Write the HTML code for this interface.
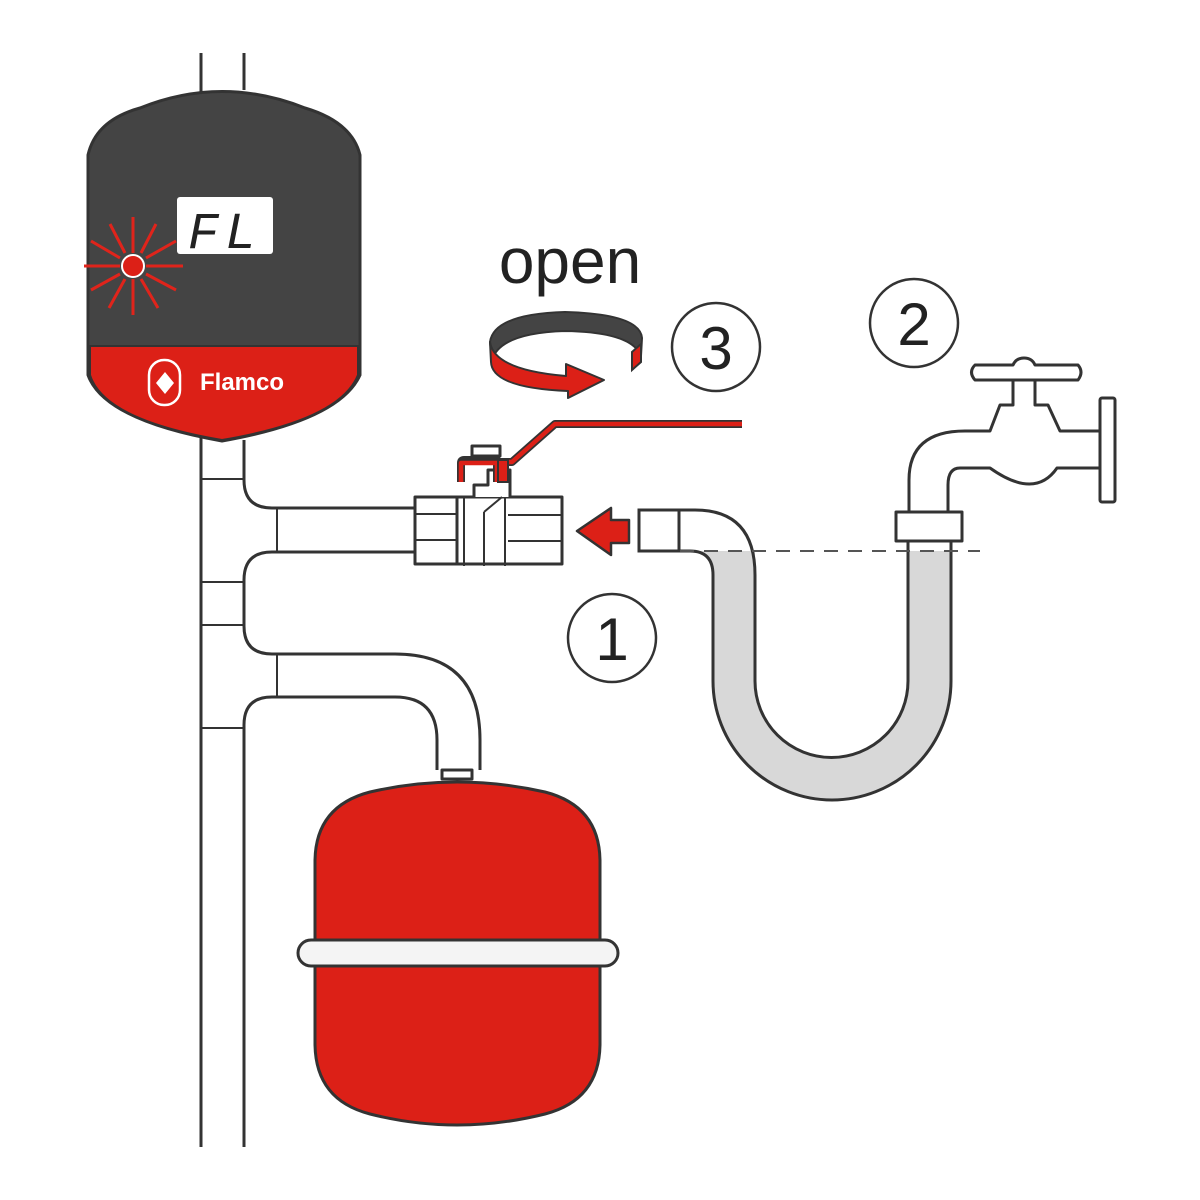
<!DOCTYPE html>
<html><head><meta charset="utf-8"><style>html,body{margin:0;padding:0;background:#fff}svg{display:block}</style></head>
<body>
<svg width="1200" height="1200" viewBox="0 0 1200 1200" xmlns="http://www.w3.org/2000/svg" font-family="Liberation Sans, sans-serif">
<g fill="none" stroke="#333" stroke-width="3" stroke-linejoin="round">
<line x1="201" y1="53" x2="201" y2="1147"/>
<line x1="244" y1="53" x2="244" y2="90"/>
<path d="M244 440 V480 Q244 508 272 508 H415"/>
<path d="M415 552 H272 Q244 552 244 580 V626 Q244 654 272 654 H395 Q480 654 480 740 V770"/>
<path d="M437 770 V740 Q437 697 395 697 H272 Q244 697 244 725 V1147"/>
<rect x="442" y="770" width="30" height="9" fill="#fff"/>
<g stroke-width="2">
<line x1="201" y1="479" x2="244" y2="479"/>
<line x1="201" y1="582" x2="244" y2="582"/>
<line x1="201" y1="625" x2="244" y2="625"/>
<line x1="201" y1="728" x2="244" y2="728"/>
<line x1="277" y1="508" x2="277" y2="552"/>
<line x1="277" y1="654" x2="277" y2="697"/>
</g>
</g>
<path d="M88 155 Q96 120 140 108 Q222 75 305 108 Q352 122 360 155 V375 Q340 420 222 441 Q104 420 88 375 Z" fill="#444" stroke="#333" stroke-width="3"/>
<path d="M90 346 H358 V375 Q340 420 222 440 Q104 420 90 375 Z" fill="#dc2017" stroke="#333" stroke-width="2"/>
<rect x="177" y="197" width="96" height="57" rx="3" fill="#fff"/>
<text x="225" y="248" font-size="52" font-style="italic" text-anchor="middle" fill="#222" letter-spacing="6" font-family="Liberation Mono, monospace">FL</text>
<g stroke="#e0241b" stroke-width="3">
<line x1="84" y1="266" x2="120" y2="266"/><line x1="146" y1="266" x2="183" y2="266"/>
<line x1="133" y1="217" x2="133" y2="253"/><line x1="133" y1="279" x2="133" y2="315"/>
<line x1="110" y1="224" x2="125" y2="253"/><line x1="141" y1="279" x2="158" y2="308"/>
<line x1="156" y1="224" x2="141" y2="253"/><line x1="125" y1="279" x2="109" y2="308"/>
<line x1="91" y1="241" x2="120" y2="258"/><line x1="146" y1="274" x2="176" y2="290"/>
<line x1="176" y1="241" x2="146" y2="258"/><line x1="120" y1="274" x2="91" y2="290"/>
</g>
<circle cx="133" cy="266" r="11" fill="#dc2017" stroke="#fff" stroke-width="2"/>
<rect x="149" y="360" width="31" height="45" rx="15" fill="none" stroke="#fff" stroke-width="2.5"/>
<path d="M156 383 L165 372 L174 383 L165 394 Z" fill="#fff"/>
<text x="200" y="390" font-size="24" font-weight="bold" fill="#fff">Flamco</text>
<path d="M315 860 Q316 806 370 792 Q457 772 545 792 Q599 806 600 860 V1045 Q599 1100 545 1114 Q457 1136 370 1114 Q316 1100 315 1045 Z" fill="#dc2017" stroke="#333" stroke-width="3"/>
<rect x="298" y="940" width="320" height="26" rx="13" fill="#f4f4f4" stroke="#333" stroke-width="3"/>
<g stroke="#333" stroke-width="3" fill="#fff" stroke-linejoin="round">
<rect x="415" y="497" width="42" height="67"/>
<path d="M457 497 H562 V564 H457 Z"/>
<path d="M457 497 H474 V485 H488 V470 H510 V497"/>
<rect x="472" y="446" width="28" height="10"/>
<line x1="464" y1="497" x2="464" y2="566" stroke-width="2"/>
<line x1="484" y1="512" x2="484" y2="566" stroke-width="2"/>
<line x1="484" y1="512" x2="502" y2="497" stroke-width="2"/>
<line x1="505" y1="497" x2="505" y2="566" stroke-width="2"/>
<line x1="508" y1="515" x2="562" y2="515" stroke-width="2"/>
<line x1="508" y1="541" x2="562" y2="541" stroke-width="2"/>
<line x1="415" y1="514" x2="457" y2="514" stroke-width="2"/>
<line x1="415" y1="540" x2="457" y2="540" stroke-width="2"/>
</g>
<path d="M461 482 V463 Q461 460 464 460 H497 V482 M497 462 H512 L555 424 H742" fill="none" stroke="#333" stroke-width="8" stroke-linejoin="round"/>
<path d="M461 482 V463 H497 V482 M497 462 H512 L555 424 H742" fill="none" stroke="#dc2017" stroke-width="4.5" stroke-linejoin="round"/>
<rect x="498" y="460" width="10" height="22" fill="#dc2017" stroke="#333" stroke-width="2"/>
<path d="M577 531 L611 508 V520 H629 V543 H611 V555 Z" fill="#dc2017" stroke="#333" stroke-width="2.5" stroke-linejoin="round"/>
<path d="M713 575 Q713 551 690 551 H679 V551 H755 V681 A76.5 76.5 0 0 0 908 681 V551 H951 V681 A119 119 0 0 1 713 681 Z" fill="#d8d8d8"/>
<path d="M679 551 H690 Q713 551 713 575 V681 A119 119 0 0 0 951 681 V540" fill="none" stroke="#333" stroke-width="3"/>
<path d="M679 510 H695 Q755 510 755 575 V681 A76.5 76.5 0 0 0 908 681 V540" fill="none" stroke="#333" stroke-width="3"/>
<rect x="639" y="510" width="40" height="41" fill="#fff" stroke="#333" stroke-width="3"/>
<line x1="680" y1="551" x2="980" y2="551" stroke="#555" stroke-width="2" stroke-dasharray="14 10"/>
<g stroke="#333" stroke-width="3" fill="#fff" stroke-linejoin="round">
<path d="M909 512 V480 Q909 431 965 431 H990 L1000 405 H1013 V380 H1035 V405 H1048 L1060 431 H1100 V468 H1057 Q1035 500 990 468 H960 Q948 468 948 485 V512 Z"/>
<path d="M975 365 H1013 Q1016 358 1024 358 Q1032 358 1035 365 H1078 Q1084 372 1078 380 H975 Q968 372 975 365 Z"/>
<rect x="1100" y="398" width="15" height="104" rx="2"/>
<rect x="896" y="512" width="66" height="29"/>
</g>
<path d="M490 342 Q494 314 565 312 Q640 314 642 338 L641 356 Q632 332 565 331 Q500 333 492 360 Z" fill="#444" stroke="#333" stroke-width="2"/>
<path d="M490 342 Q494 370 566 376 L566 364 L604 380 L568 398 L568 391 Q492 388 491 362 Z" fill="#dc2017" stroke="#333" stroke-width="2" stroke-linejoin="round"/>
<path d="M632 352 L641 344 V362 L632 370 Z" fill="#dc2017" stroke="#333" stroke-width="2"/>
<text x="570" y="283" font-size="64" text-anchor="middle" fill="#222">open</text>
<g fill="none" stroke="#333" stroke-width="2.5">
<circle cx="716" cy="347" r="44"/>
<circle cx="914" cy="323" r="44"/>
<circle cx="612" cy="638" r="44"/>
</g>
<g font-size="60" text-anchor="middle" fill="#222">
<text x="716" y="369">3</text>
<text x="914" y="345">2</text>
<text x="612" y="660">1</text>
</g>
</svg>
</body></html>
